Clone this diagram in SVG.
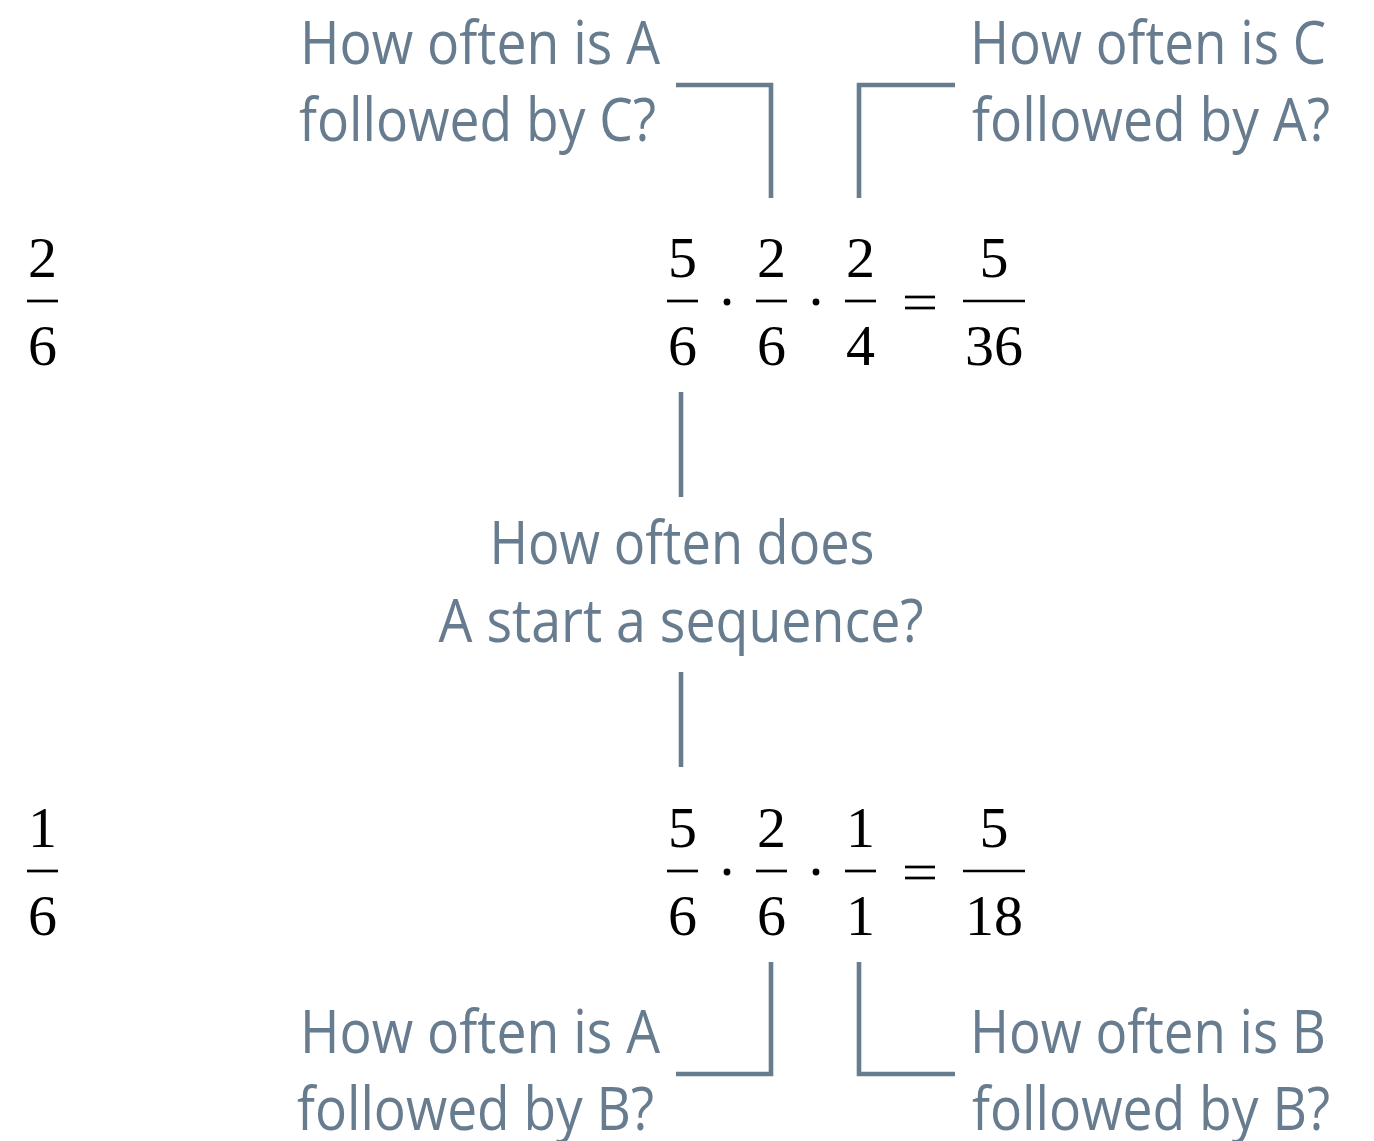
<svg xmlns="http://www.w3.org/2000/svg" width="1374" height="1141" viewBox="0 0 1374 1141">
<style>
.lbl{font-family:"Open Sans","Noto Sans","Liberation Sans",sans-serif;font-size:60px;fill:#687c90}
.num{font-family:"Liberation Serif","Times New Roman",serif;font-size:58px;fill:#000;text-anchor:middle}
.bar{stroke:#000;stroke-width:2.7;fill:none}
.con{stroke:#687c90;stroke-width:4.6;fill:none}
</style>
<rect width="1374" height="1141" fill="#fff"/>
<g id="connectors">
<path class="con" d="M676 85 H771 V198"/>
<path class="con" d="M955 85 H859 V198"/>
<path class="con" d="M681 392 V497"/>
<path class="con" d="M681 672 V767"/>
<path class="con" d="M676 1074 H771 V962"/>
<path class="con" d="M955 1074 H859 V962"/>
</g>
<g id="label-AC">
<text class="lbl" x="300" y="64" textLength="360" lengthAdjust="spacingAndGlyphs">How often is A</text>
<text class="lbl" x="299" y="141" textLength="357" lengthAdjust="spacingAndGlyphs">followed by C?</text>
</g>
<g id="label-CA">
<text class="lbl" x="970" y="64" textLength="356" lengthAdjust="spacingAndGlyphs">How often is C</text>
<text class="lbl" x="972" y="141" textLength="358" lengthAdjust="spacingAndGlyphs">followed by A?</text>
</g>
<g id="label-start">
<text class="lbl" x="682" y="564" text-anchor="middle" textLength="385" lengthAdjust="spacingAndGlyphs">How often does</text>
<text class="lbl" x="681" y="642" text-anchor="middle" textLength="485" lengthAdjust="spacingAndGlyphs">A start a sequence?</text>
</g>
<g id="label-AB">
<text class="lbl" x="300" y="1053" textLength="360" lengthAdjust="spacingAndGlyphs">How often is A</text>
<text class="lbl" x="297" y="1130" textLength="357" lengthAdjust="spacingAndGlyphs">followed by B?</text>
</g>
<g id="label-BB">
<text class="lbl" x="970" y="1053" textLength="356" lengthAdjust="spacingAndGlyphs">How often is B</text>
<text class="lbl" x="972" y="1130" textLength="358" lengthAdjust="spacingAndGlyphs">followed by B?</text>
</g>
<g id="frac-left-top">
<text class="num" x="42.5" y="277">2</text>
<line class="bar" x1="27" y1="301" x2="58" y2="301"/>
<text class="num" x="42.5" y="365">6</text>
</g>
<g id="eq-top">
<text class="num" x="682.5" y="277">5</text>
<line class="bar" x1="667" y1="301" x2="698" y2="301"/>
<text class="num" x="682.5" y="365">6</text>
<circle cx="727" cy="302" r="3.4"/>
<text class="num" x="771.5" y="277">2</text>
<line class="bar" x1="756" y1="301" x2="787" y2="301"/>
<text class="num" x="771.5" y="365">6</text>
<circle cx="816" cy="302" r="3.4"/>
<text class="num" x="860.5" y="277">2</text>
<line class="bar" x1="845" y1="301" x2="876" y2="301"/>
<text class="num" x="860.5" y="365">4</text>
<line class="bar" x1="905" y1="297" x2="935" y2="297"/>
<line class="bar" x1="905" y1="308" x2="935" y2="308"/>
<text class="num" x="994" y="277">5</text>
<line class="bar" x1="963" y1="301" x2="1025" y2="301"/>
<text class="num" x="994" y="365">36</text>
</g>
<g id="frac-left-bottom">
<text class="num" x="42.5" y="847">1</text>
<line class="bar" x1="27" y1="871" x2="58" y2="871"/>
<text class="num" x="42.5" y="935">6</text>
</g>
<g id="eq-bottom">
<text class="num" x="682.5" y="847">5</text>
<line class="bar" x1="667" y1="871" x2="698" y2="871"/>
<text class="num" x="682.5" y="935">6</text>
<circle cx="727" cy="872" r="3.4"/>
<text class="num" x="771.5" y="847">2</text>
<line class="bar" x1="756" y1="871" x2="787" y2="871"/>
<text class="num" x="771.5" y="935">6</text>
<circle cx="816" cy="872" r="3.4"/>
<text class="num" x="860.5" y="847">1</text>
<line class="bar" x1="845" y1="871" x2="876" y2="871"/>
<text class="num" x="860.5" y="935">1</text>
<line class="bar" x1="905" y1="867" x2="935" y2="867"/>
<line class="bar" x1="905" y1="878" x2="935" y2="878"/>
<text class="num" x="994" y="847">5</text>
<line class="bar" x1="963" y1="871" x2="1025" y2="871"/>
<text class="num" x="994" y="935">18</text>
</g>
</svg>
